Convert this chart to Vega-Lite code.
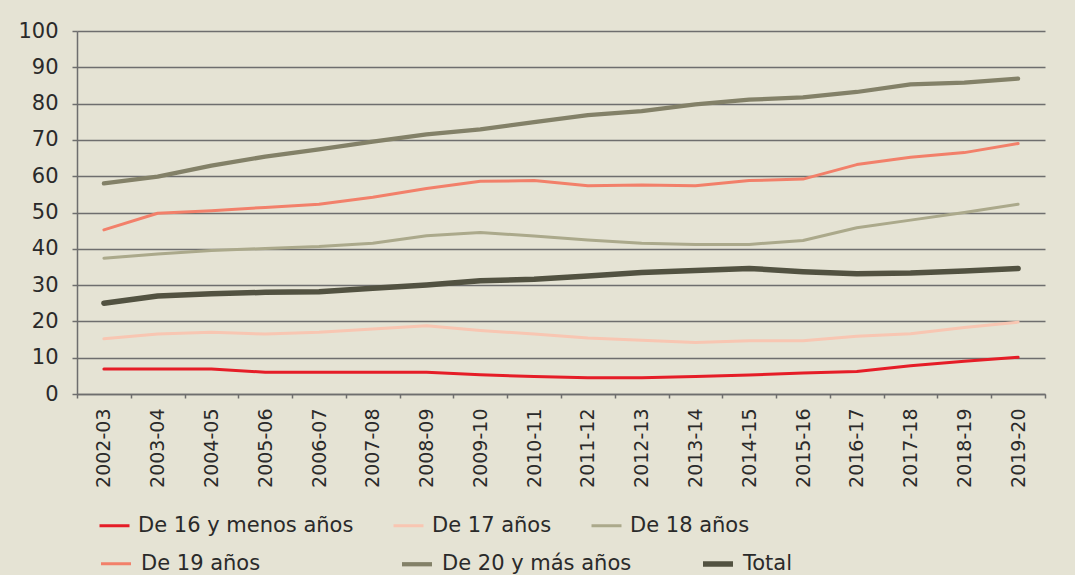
{
  "$schema": "https://vega.github.io/schema/vega-lite/v6.json",
  "width": 968,
  "height": 363,
  "autosize": {"type": "none"},
  "padding": {"left": 77, "top": 31, "right": 30, "bottom": 181},
  "background": "#e5e3d4",
  "config": {"view": {"stroke": null}, "font": "DejaVu Sans"},
  "data": {
    "values": [
      {"curso": "2002-03", "serie": "De 16 y menos años", "v": 6.9},
      {"curso": "2003-04", "serie": "De 16 y menos años", "v": 6.9},
      {"curso": "2004-05", "serie": "De 16 y menos años", "v": 6.9},
      {"curso": "2005-06", "serie": "De 16 y menos años", "v": 6.0},
      {"curso": "2006-07", "serie": "De 16 y menos años", "v": 6.0},
      {"curso": "2007-08", "serie": "De 16 y menos años", "v": 6.0},
      {"curso": "2008-09", "serie": "De 16 y menos años", "v": 6.0},
      {"curso": "2009-10", "serie": "De 16 y menos años", "v": 5.3},
      {"curso": "2010-11", "serie": "De 16 y menos años", "v": 4.8},
      {"curso": "2011-12", "serie": "De 16 y menos años", "v": 4.5},
      {"curso": "2012-13", "serie": "De 16 y menos años", "v": 4.5},
      {"curso": "2013-14", "serie": "De 16 y menos años", "v": 4.8},
      {"curso": "2014-15", "serie": "De 16 y menos años", "v": 5.2},
      {"curso": "2015-16", "serie": "De 16 y menos años", "v": 5.8},
      {"curso": "2016-17", "serie": "De 16 y menos años", "v": 6.2},
      {"curso": "2017-18", "serie": "De 16 y menos años", "v": 7.8},
      {"curso": "2018-19", "serie": "De 16 y menos años", "v": 9.0},
      {"curso": "2019-20", "serie": "De 16 y menos años", "v": 10.1},
      {"curso": "2002-03", "serie": "De 17 años", "v": 15.2},
      {"curso": "2003-04", "serie": "De 17 años", "v": 16.5},
      {"curso": "2004-05", "serie": "De 17 años", "v": 17.0},
      {"curso": "2005-06", "serie": "De 17 años", "v": 16.5},
      {"curso": "2006-07", "serie": "De 17 años", "v": 17.0},
      {"curso": "2007-08", "serie": "De 17 años", "v": 17.9},
      {"curso": "2008-09", "serie": "De 17 años", "v": 18.8},
      {"curso": "2009-10", "serie": "De 17 años", "v": 17.5},
      {"curso": "2010-11", "serie": "De 17 años", "v": 16.5},
      {"curso": "2011-12", "serie": "De 17 años", "v": 15.4},
      {"curso": "2012-13", "serie": "De 17 años", "v": 14.8},
      {"curso": "2013-14", "serie": "De 17 años", "v": 14.2},
      {"curso": "2014-15", "serie": "De 17 años", "v": 14.7},
      {"curso": "2015-16", "serie": "De 17 años", "v": 14.7},
      {"curso": "2016-17", "serie": "De 17 años", "v": 15.9},
      {"curso": "2017-18", "serie": "De 17 años", "v": 16.6},
      {"curso": "2018-19", "serie": "De 17 años", "v": 18.3},
      {"curso": "2019-20", "serie": "De 17 años", "v": 19.8},
      {"curso": "2002-03", "serie": "De 18 años", "v": 37.4},
      {"curso": "2003-04", "serie": "De 18 años", "v": 38.6},
      {"curso": "2004-05", "serie": "De 18 años", "v": 39.5},
      {"curso": "2005-06", "serie": "De 18 años", "v": 40.1},
      {"curso": "2006-07", "serie": "De 18 años", "v": 40.6},
      {"curso": "2007-08", "serie": "De 18 años", "v": 41.5},
      {"curso": "2008-09", "serie": "De 18 años", "v": 43.6},
      {"curso": "2009-10", "serie": "De 18 años", "v": 44.5},
      {"curso": "2010-11", "serie": "De 18 años", "v": 43.5},
      {"curso": "2011-12", "serie": "De 18 años", "v": 42.4},
      {"curso": "2012-13", "serie": "De 18 años", "v": 41.5},
      {"curso": "2013-14", "serie": "De 18 años", "v": 41.2},
      {"curso": "2014-15", "serie": "De 18 años", "v": 41.2},
      {"curso": "2015-16", "serie": "De 18 años", "v": 42.3},
      {"curso": "2016-17", "serie": "De 18 años", "v": 45.8},
      {"curso": "2017-18", "serie": "De 18 años", "v": 47.9},
      {"curso": "2018-19", "serie": "De 18 años", "v": 50.0},
      {"curso": "2019-20", "serie": "De 18 años", "v": 52.3},
      {"curso": "2002-03", "serie": "De 19 años", "v": 45.2},
      {"curso": "2003-04", "serie": "De 19 años", "v": 49.8},
      {"curso": "2004-05", "serie": "De 19 años", "v": 50.5},
      {"curso": "2005-06", "serie": "De 19 años", "v": 51.4},
      {"curso": "2006-07", "serie": "De 19 años", "v": 52.3},
      {"curso": "2007-08", "serie": "De 19 años", "v": 54.2},
      {"curso": "2008-09", "serie": "De 19 años", "v": 56.6},
      {"curso": "2009-10", "serie": "De 19 años", "v": 58.6},
      {"curso": "2010-11", "serie": "De 19 años", "v": 58.8},
      {"curso": "2011-12", "serie": "De 19 años", "v": 57.4},
      {"curso": "2012-13", "serie": "De 19 años", "v": 57.6},
      {"curso": "2013-14", "serie": "De 19 años", "v": 57.4},
      {"curso": "2014-15", "serie": "De 19 años", "v": 58.8},
      {"curso": "2015-16", "serie": "De 19 años", "v": 59.2},
      {"curso": "2016-17", "serie": "De 19 años", "v": 63.2},
      {"curso": "2017-18", "serie": "De 19 años", "v": 65.2},
      {"curso": "2018-19", "serie": "De 19 años", "v": 66.5},
      {"curso": "2019-20", "serie": "De 19 años", "v": 69.0},
      {"curso": "2002-03", "serie": "De 20 y más años", "v": 58.0},
      {"curso": "2003-04", "serie": "De 20 y más años", "v": 59.9},
      {"curso": "2004-05", "serie": "De 20 y más años", "v": 62.9},
      {"curso": "2005-06", "serie": "De 20 y más años", "v": 65.4},
      {"curso": "2006-07", "serie": "De 20 y más años", "v": 67.4},
      {"curso": "2007-08", "serie": "De 20 y más años", "v": 69.5},
      {"curso": "2008-09", "serie": "De 20 y más años", "v": 71.5},
      {"curso": "2009-10", "serie": "De 20 y más años", "v": 72.9},
      {"curso": "2010-11", "serie": "De 20 y más años", "v": 74.9},
      {"curso": "2011-12", "serie": "De 20 y más años", "v": 76.8},
      {"curso": "2012-13", "serie": "De 20 y más años", "v": 77.9},
      {"curso": "2013-14", "serie": "De 20 y más años", "v": 79.8},
      {"curso": "2014-15", "serie": "De 20 y más años", "v": 81.1},
      {"curso": "2015-16", "serie": "De 20 y más años", "v": 81.7},
      {"curso": "2016-17", "serie": "De 20 y más años", "v": 83.2},
      {"curso": "2017-18", "serie": "De 20 y más años", "v": 85.3},
      {"curso": "2018-19", "serie": "De 20 y más años", "v": 85.8},
      {"curso": "2019-20", "serie": "De 20 y más años", "v": 86.9},
      {"curso": "2002-03", "serie": "Total", "v": 25.0},
      {"curso": "2003-04", "serie": "Total", "v": 27.0},
      {"curso": "2004-05", "serie": "Total", "v": 27.6},
      {"curso": "2005-06", "serie": "Total", "v": 28.0},
      {"curso": "2006-07", "serie": "Total", "v": 28.2},
      {"curso": "2007-08", "serie": "Total", "v": 29.1},
      {"curso": "2008-09", "serie": "Total", "v": 30.0},
      {"curso": "2009-10", "serie": "Total", "v": 31.2},
      {"curso": "2010-11", "serie": "Total", "v": 31.6},
      {"curso": "2011-12", "serie": "Total", "v": 32.5},
      {"curso": "2012-13", "serie": "Total", "v": 33.5},
      {"curso": "2013-14", "serie": "Total", "v": 34.0},
      {"curso": "2014-15", "serie": "Total", "v": 34.6},
      {"curso": "2015-16", "serie": "Total", "v": 33.7},
      {"curso": "2016-17", "serie": "Total", "v": 33.1},
      {"curso": "2017-18", "serie": "Total", "v": 33.3},
      {"curso": "2018-19", "serie": "Total", "v": 33.9},
      {"curso": "2019-20", "serie": "Total", "v": 34.6}
    ]
  },
  "encoding": {
    "x": {
      "field": "curso",
      "type": "ordinal",
      "sort": null,
      "bandPosition": 0.5,
      "scale": {"type": "band", "paddingInner": 0, "paddingOuter": 0},
      "axis": {
        "title": null,
        "labelAngle": -90,
        "labelAlign": "right",
        "labelBaseline": "middle",
        "labelFontSize": 19,
        "labelColor": "#2a2a2a",
        "labelPadding": 10,
        "tickBand": "extent",
        "tickSize": 4,
        "tickColor": "#6e6e6e",
        "tickWidth": 1.5,
        "domainColor": "#6e6e6e",
        "domainWidth": 1.5,
        "grid": false
      }
    },
    "y": {
      "field": "v",
      "type": "quantitative",
      "scale": {"domain": [0, 100], "nice": false},
      "axis": {
        "title": null,
        "values": [0, 10, 20, 30, 40, 50, 60, 70, 80, 90, 100],
        "grid": true,
        "gridColor": "#6e6e6e",
        "gridWidth": 1.5,
        "domainColor": "#6e6e6e",
        "domainWidth": 1.5,
        "tickColor": "#6e6e6e",
        "tickWidth": 1.5,
        "tickSize": 5,
        "labelFontSize": 21,
        "labelPadding": 14,
        "labelColor": "#2a2a2a"
      }
    }
  },
  "layer": [
    {
      "transform": [{"filter": "indexof(['De 16 y menos años','De 17 años','De 18 años'], datum.serie) >= 0"}],
      "mark": {"type": "line", "strokeCap": "round", "strokeJoin": "round"},
      "encoding": {
        "color": {
          "field": "serie",
          "type": "nominal",
          "scale": {"domain": ["De 16 y menos años", "De 17 años", "De 18 años"], "range": ["#e51d27", "#f8c6b2", "#aba98b"]},
          "legend": {
            "orient": "none",
            "legendX": 21,
            "legendY": 478,
            "direction": "horizontal",
            "title": null,
            "padding": 0,
            "labelFontSize": 21,
            "labelLimit": 400,
            "labelColor": "#2a2a2a",
            "labelOffset": 7,
            "symbolType": "stroke",
            "symbolSize": 900,
            "columnPadding": 33
          }
        },
        "strokeWidth": {
          "field": "serie",
          "type": "nominal",
          "scale": {"domain": ["De 16 y menos años", "De 17 años", "De 18 años"], "range": [3, 3, 3]}
        }
      }
    },
    {
      "transform": [{"filter": "indexof(['De 19 años','De 20 y más años','Total'], datum.serie) >= 0"}],
      "mark": {"type": "line", "strokeCap": "round", "strokeJoin": "round"},
      "encoding": {
        "color": {
          "field": "serie",
          "type": "nominal",
          "scale": {"domain": ["De 19 años", "De 20 y más años", "Total"], "range": ["#f2806a", "#838168", "#525241"]},
          "legend": {
            "orient": "none",
            "legendX": 21,
            "legendY": 515,
            "direction": "horizontal",
            "columns": 3,
            "gridAlign": "all",
            "title": null,
            "padding": 0,
            "labelFontSize": 21,
            "labelLimit": 400,
            "labelColor": "#2a2a2a",
            "labelOffset": 7,
            "symbolType": "stroke",
            "symbolSize": 900,
            "columnPadding": 60
          }
        },
        "strokeWidth": {
          "field": "serie",
          "type": "nominal",
          "scale": {"domain": ["De 19 años", "De 20 y más años", "Total"], "range": [3, 5.5, 5.5]}
        }
      }
    }
  ],
  "resolve": {"scale": {"color": "independent", "strokeWidth": "independent"}}
}
